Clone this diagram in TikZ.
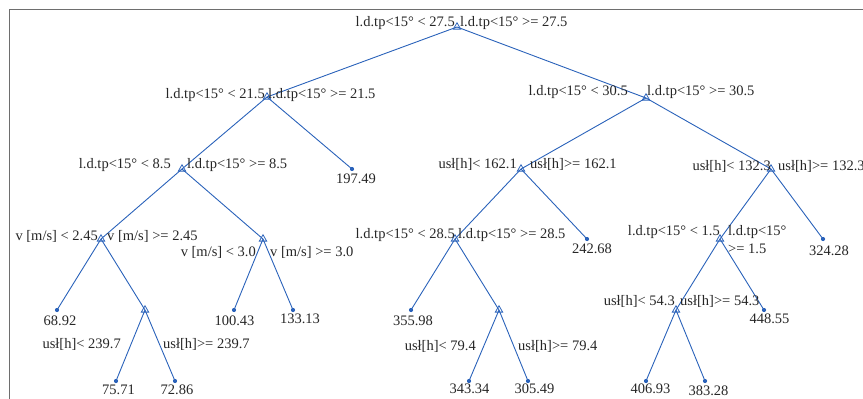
\documentclass[tikz,border=0pt]{standalone}
\usepackage{fontspec}
\setmainfont{Liberation Serif}
\usetikzlibrary{shapes.geometric}
\definecolor{treeblue}{RGB}{42,98,186}
\definecolor{txtgray}{RGB}{38,38,38}
\definecolor{framegray}{RGB}{110,110,110}
\begin{document}
\begin{tikzpicture}[x=1pt,y=-1pt,
  branch/.style={regular polygon, regular polygon sides=3, draw=treeblue, line width=0.8pt, inner sep=0pt, minimum size=8.5pt},
  leaf/.style={circle, fill=treeblue, inner sep=0pt, minimum size=4.2pt},
  edge/.style={draw=treeblue, line width=0.9pt},
  lbl/.style={text=txtgray, inner sep=0pt, font=\fontsize{14.5}{16}\selectfont},
  lft/.style={lbl, anchor=base east},
  rgt/.style={lbl, anchor=base west},
  val/.style={lbl, anchor=base},
  frame/.style={draw=framegray, line width=1.5pt}]
\useasboundingbox (0,0) rectangle (863,399);
\draw[frame] (9.5,405) -- (9.5,9.5) -- (870,9.5);
% tree nodes
\node[branch] (r) at (457,27) {};
\node[branch] (a) at (267,97) {};
\node[branch] (b) at (646,98) {};
\node[branch] (aa) at (182,169) {};
\node[leaf] (ab) at (352,169) {};
\node[branch] (ba) at (521,169) {};
\node[branch] (bb) at (771,169) {};
\node[branch] (aaa) at (101,239) {};
\node[branch] (aab) at (263,239) {};
\node[branch] (baa) at (455,239) {};
\node[leaf] (bab) at (587,239) {};
\node[branch] (bba) at (720,239) {};
\node[leaf] (bbb) at (823,239) {};
\node[leaf] (aaaa) at (57,310) {};
\node[branch] (aaab) at (145,310) {};
\node[leaf] (aaba) at (234,310) {};
\node[leaf] (aabb) at (293,310) {};
\node[leaf] (baaa) at (411,310) {};
\node[branch] (baab) at (499,310) {};
\node[branch] (bbaa) at (676,310) {};
\node[leaf] (bbab) at (764,310) {};
\node[leaf] (aaaba) at (116,381) {};
\node[leaf] (aaabb) at (175,381) {};
\node[leaf] (baaba) at (469,381) {};
\node[leaf] (baabb) at (528,381) {};
\node[leaf] (bbaaa) at (646,381) {};
\node[leaf] (bbaab) at (705,381) {};
% edges
\foreach \p/\c in {r/a,r/b,a/aa,a/ab,b/ba,b/bb,aa/aaa,aa/aab,ba/baa,ba/bab,bb/bba,bb/bbb,
  aaa/aaaa,aaa/aaab,aab/aaba,aab/aabb,baa/baaa,baa/baab,bba/bbaa,bba/bbab,
  aaab/aaaba,aaab/aaabb,baab/baaba,baab/baabb,bbaa/bbaaa,bbaa/bbaab}
  \draw[edge] (\p.center) -- (\c.center);
% split labels
\node[lft] (rL) at (455,26) {l.d.tp<15° < 27.5};
\node[rgt] (rR) at (460,26) {l.d.tp<15° >= 27.5};
\node[lft] (aL) at (265,98) {l.d.tp<15° < 21.5};
\node[rgt] (aR) at (268,98) {l.d.tp<15° >= 21.5};
\node[lft] (bL) at (628,95) {l.d.tp<15° < 30.5};
\node[rgt] (bR) at (647,95) {l.d.tp<15° >= 30.5};
\node[lft] (aaL) at (171,168) {l.d.tp<15° < 8.5};
\node[rgt] (aaR) at (187,168) {l.d.tp<15° >= 8.5};
\node[lft] (baL) at (517,168) {usł[h]< 162.1};
\node[rgt] (baR) at (530,168) {usł[h]>= 162.1};
\node[lft] (bbL) at (771,170) {usł[h]< 132.3};
\node[rgt] (bbR) at (778,170) {usł[h]>= 132.3};
\node[lft] (aaaL) at (98,240) {v [m/s] < 2.45};
\node[rgt] (aaaR) at (107,240) {v [m/s] >= 2.45};
\node[lft] (aabL) at (256,256) {v [m/s] < 3.0};
\node[rgt] (aabR) at (270,256) {v [m/s] >= 3.0};
\node[lft] (baaL) at (455,238) {l.d.tp<15° < 28.5};
\node[rgt] (baaR) at (458,238) {l.d.tp<15° >= 28.5};
\node[lft] (bbaL) at (720,235) {l.d.tp<15° < 1.5};
\node[rgt, align=left] (bbaR) at (728,253) {l.d.tp<15°\\[2pt]>= 1.5};
\node[lft] (aaabL) at (121,348) {usł[h]< 239.7};
\node[rgt] (aaabR) at (163,348) {usł[h]>= 239.7};
\node[lft] (baabL) at (476,350) {usł[h]< 79.4};
\node[rgt] (baabR) at (518,350) {usł[h]>= 79.4};
\node[lft] (bbaaL) at (675,305) {usł[h]< 54.3};
\node[rgt] (bbaaR) at (680,305) {usł[h]>= 54.3};
% leaf values
\node[val] (abV) at (356,183) {197.49};
\node[val] (babV) at (592,253) {242.68};
\node[val] (bbbV) at (829,255) {324.28};
\node[val] (aaaaV) at (60,325) {68.92};
\node[val] (aabaV) at (234.5,325) {100.43};
\node[val] (aabbV) at (300,323) {133.13};
\node[val] (baaaV) at (413,325) {355.98};
\node[val] (bbabV) at (769.5,323) {448.55};
\node[val] (aaabaV) at (118.5,394) {75.71};
\node[val] (aaabbV) at (177,394) {72.86};
\node[val] (baabaV) at (469.5,393) {343.34};
\node[val] (baabbV) at (534.5,393) {305.49};
\node[val] (bbaaaV) at (650.5,393) {406.93};
\node[val] (bbaabV) at (708.5,395) {383.28};
\end{tikzpicture}
\end{document}
